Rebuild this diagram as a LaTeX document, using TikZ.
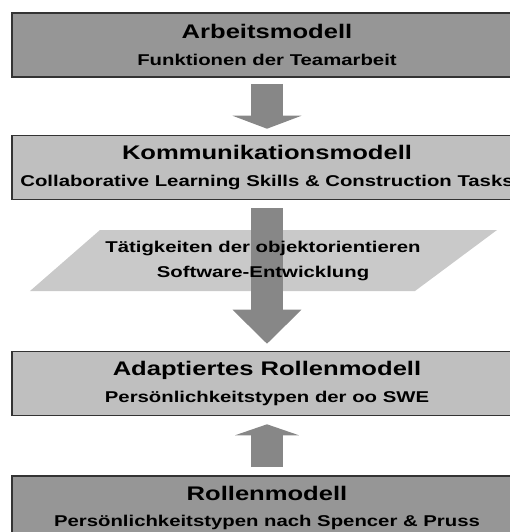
\documentclass[tikz,border=0pt]{standalone}
\usepackage{fontspec}
\newfontfamily\arialw{Liberation Sans}[FakeStretch=1.3]
\usetikzlibrary{arrows.meta}

\definecolor{darkbox}{gray}{0.59}
\definecolor{lightbox}{gray}{0.75}
\definecolor{paragray}{gray}{0.79}
\definecolor{arrowgray}{gray}{0.53}

\newcommand{\boxtitle}{\arialw\bfseries\fontsize{11.2}{13}\selectfont}
\newcommand{\boxsub}{\arialw\bfseries\fontsize{8.9}{11}\selectfont}

\begin{document}
\begin{tikzpicture}[x=0.02cm, y=-0.02cm,
	model/.style={draw=black!80, line width=0.9pt, minimum width=10.2cm, minimum height=1.28cm, align=center, inner sep=0pt},
	bigarrow/.style={draw=arrowgray, line width=0.64cm}]
	
	\useasboundingbox (0,0) rectangle (510,532);
	
	\node [model, fill=darkbox] (arbeit) at (267,45) {\boxtitle Arbeitsmodell\\[3pt]\boxsub Funktionen der Teamarbeit};
	\node [model, fill=lightbox] (komm) at (267,167.5) {\boxtitle Kommunikationsmodell\\[3pt]\boxsub Collaborative Learning Skills \& Construction Tasks};
	\node [model, fill=lightbox] (adapt) at (267,383.5) {\boxtitle Adaptiertes Rollenmodell\\[3pt]\boxsub Persönlichkeitstypen der oo SWE};
	\node [model, fill=darkbox] (rollen) at (267,508) {\boxtitle Rollenmodell\\[3pt]\boxsub Persönlichkeitstypen nach Spencer \& Pruss};
	
	\fill [paragray] (100,230) -- (497,230) -- (415,291) -- (30,291) -- cycle;
	
	\draw [bigarrow, shorten <=0.12cm, shorten >=0.12cm, -{Triangle[width=1.38cm, length=0.26cm, line width=0pt]}] (arbeit) -- (komm);
	\draw [bigarrow, shorten <=0.16cm, shorten >=0.14cm, -{Triangle[width=1.38cm, length=0.68cm, line width=0pt]}] (komm) -- (adapt);
	\draw [bigarrow, shorten <=0.16cm, shorten >=0.16cm, -{Triangle[width=1.28cm, length=0.22cm, line width=0pt]}] (rollen) -- (adapt);
	
	\node [font=\boxsub, align=center] (taetig) at (263,261) {Tätigkeiten der objektorientieren\\[3pt]Software-Entwicklung};
	
\end{tikzpicture}
\end{document}
